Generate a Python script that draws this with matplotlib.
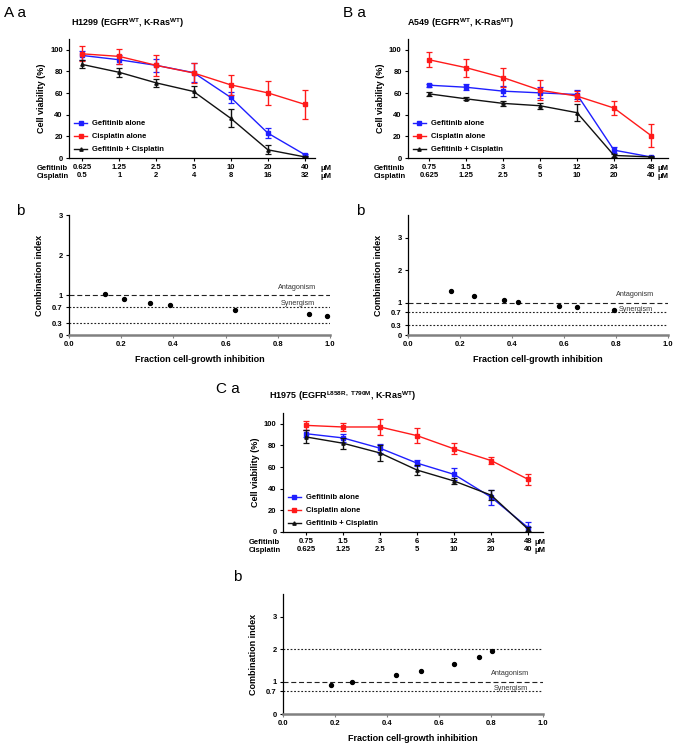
import matplotlib
matplotlib.use('Agg')
import matplotlib.pyplot as plt
import matplotlib.transforms as mtransforms

plt.rcParams['font.family'] = ['Liberation Sans', 'DejaVu Sans']
plt.rcParams['font.weight'] = 'bold'
plt.rcParams['mathtext.fontset'] = 'custom'
plt.rcParams['mathtext.rm'] = 'Liberation Sans:bold'
plt.rcParams['mathtext.bf'] = 'Liberation Sans:bold'

# ---- data: H1299 ----
h1299_gef = ['0.625', '1.25', '2.5', '5', '10', '20', '40']
h1299_cis = ['0.5', '1', '2', '4', '8', '16', '32']
h1299_gef_v = [94.8, 90.8, 85.6, 78.9, 56.0, 23.0, 3.0]
h1299_gef_e = [4.0, 4.0, 6.0, 9.0, 5.0, 4.5, 1.0]
h1299_cis_v = [96.3, 93.9, 85.6, 78.6, 67.6, 60.2, 49.5]
h1299_cis_e = [7.0, 6.7, 10.0, 9.0, 9.0, 11.0, 13.0]
h1299_com_v = [86.5, 79.2, 69.4, 61.5, 36.7, 7.6, 1.0]
h1299_com_e = [3.7, 4.3, 3.7, 5.0, 8.3, 4.0, 0.5]
h1299_fa = [0.138, 0.211, 0.311, 0.386, 0.636, 0.921, 0.988]
h1299_ci = [1.02, 0.89, 0.79, 0.74, 0.63, 0.53, 0.48]

# ---- data: A549 ----
a549_gef = ['0.75', '1.5', '3', '6', '12', '24', '48']
a549_cis = ['0.625', '1.25', '2.5', '5', '10', '20', '40']
a549_gef_v = [67.3, 65.4, 61.8, 60.2, 58.7, 7.3, 1.0]
a549_gef_e = [1.5, 3.0, 4.5, 5.0, 4.0, 2.5, 0.5]
a549_cis_v = [90.8, 83.5, 74.3, 62.7, 57.2, 46.2, 20.8]
a549_cis_e = [7.0, 8.3, 9.0, 9.0, 4.5, 6.7, 10.5]
a549_com_v = [59.3, 54.7, 50.5, 48.3, 41.9, 2.4, 1.0]
a549_com_e = [2.0, 1.5, 2.0, 3.0, 8.0, 1.0, 0.5]
a549_fa = [0.167, 0.255, 0.37, 0.423, 0.58, 0.649, 0.792]
a549_ci = [1.37, 1.2, 1.07, 1.03, 0.9, 0.86, 0.78]

# ---- data: H1975 ----
h1975_gef = ['0.75', '1.5', '3', '6', '12', '24', '48']
h1975_cis = ['0.625', '1.25', '2.5', '5', '10', '20', '40']
h1975_gef_v = [90.8, 86.9, 77.4, 63.6, 53.2, 32.1, 4.0]
h1975_gef_e = [3.0, 4.0, 4.0, 3.0, 5.5, 7.0, 5.0]
h1975_cis_v = [98.5, 97.0, 97.0, 89.0, 76.8, 66.0, 48.6]
h1975_cis_e = [4.0, 4.0, 7.0, 7.0, 5.0, 3.5, 5.0]
h1975_com_v = [87.8, 82.0, 73.0, 57.2, 47.1, 34.0, 2.5]
h1975_com_e = [6.0, 5.0, 7.0, 5.0, 3.0, 4.5, 2.0]
h1975_fa = [0.183, 0.267, 0.434, 0.529, 0.657, 0.754, 0.805]
h1975_ci = [0.89, 1.0, 1.2, 1.34, 1.55, 1.77, 1.93]

fig = plt.figure(figsize=(6.77, 7.44), dpi=100)


def viability(rect, gef, cis, gv, ge, cv, ce, mv, me, xlim, um_x):
    ax = fig.add_axes(rect)
    x = list(range(len(gef)))
    series = [(gv, ge, '#1f1fff', 's', 2.6, 'Gefitinib alone'),
              (cv, ce, '#ff1a1a', 's', 2.6, 'Cisplatin alone'),
              (mv, me, '#111111', '^', 2.4, 'Gefitinib + Cisplatin')]
    for v, e, c, m, ms, lab in series:
        ax.errorbar(x, v, yerr=e, fmt='none', ecolor=c, elinewidth=1.0,
                    capsize=2.2, capthick=0.9)
        ax.plot(x, v, color=c, lw=1.0, marker=m, ms=ms, label=lab)
    ax.set_ylim(0, 110)
    ax.set_xlim(*xlim)
    ax.set_yticks([0, 20, 40, 60, 80, 100])
    ax.set_xticks(x)
    ax.set_xticklabels([g + '\n' + c for g, c in zip(gef, cis)],
                       linespacing=1.2)
    ax.tick_params(labelsize=5.5, length=2.5, width=0.8, pad=2)
    for s in ['top', 'right']:
        ax.spines[s].set_visible(False)
    ax.spines['left'].set_linewidth(0.9)
    ax.spines['bottom'].set_linewidth(0.9)
    ax.set_ylabel('Cell viability (%)', fontsize=6.5, fontweight='bold',
                  labelpad=3)
    ax.text(-0.13, -0.055, 'Gefitinib\nCisplatin', transform=ax.transAxes,
            fontsize=5.5, va='top', ha='left', linespacing=1.2)
    trans = mtransforms.blended_transform_factory(ax.transData, ax.transAxes)
    ax.text(um_x, -0.055, 'μM\nμM', transform=trans,
            fontsize=5.5, va='top', ha='left', linespacing=1.2)
    ax.legend(loc='lower left', bbox_to_anchor=(0.0, 0.0),
              fontsize=5.5, frameon=False, handlelength=1.8,
              handletextpad=0.6, labelspacing=0.75, borderaxespad=0.2)
    return ax


def combo(rect, fa, ci, ymax, lines, yticks, ylabels, ant_y, syn_y):
    ax = fig.add_axes(rect)
    for y, ls in lines:
        ax.axhline(y, color='#222222', lw=0.8, ls=ls)
    ax.scatter(fa, ci, s=8, color='black', zorder=3)
    ax.set_xlim(0, 1.0)
    ax.set_ylim(0, ymax)
    ax.set_xticks([0, 0.2, 0.4, 0.6, 0.8, 1.0])
    ax.set_xticklabels(['0.0', '0.2', '0.4', '0.6', '0.8', '1.0'])
    ax.set_yticks(yticks)
    ax.set_yticklabels(ylabels)
    ax.tick_params(labelsize=5.5, length=2.5, width=0.8, pad=2)
    ax.tick_params(axis='x', color='#808080')
    for s in ['top', 'right']:
        ax.spines[s].set_visible(False)
    ax.spines['left'].set_linewidth(0.9)
    ax.spines['bottom'].set_linewidth(1.8)
    ax.spines['bottom'].set_color('#808080')
    ax.set_ylabel('Combination index', fontsize=6.5, fontweight='bold',
                  labelpad=6)
    ax.set_xlabel('Fraction cell-growth inhibition', fontsize=6.5,
                  fontweight='bold', labelpad=5)
    ax.text(0.875, ant_y, 'Antagonism', fontsize=5.2, fontweight='normal',
            ha='center', va='center', color='#333333')
    ax.text(0.875, syn_y, 'Synergism', fontsize=5.2, fontweight='normal',
            ha='center', va='center', color='#333333')
    return ax


dash = (0, (4.5, 2.5))
dot = (0, (1.6, 1.6))

viability([0.102, 0.7876, 0.3634, 0.16], h1299_gef, h1299_cis,
          h1299_gef_v, h1299_gef_e, h1299_cis_v, h1299_cis_e,
          h1299_com_v, h1299_com_e, (-0.35, 6.27), 6.42)
viability([0.6027, 0.7876, 0.384, 0.16], a549_gef, a549_cis,
          a549_gef_v, a549_gef_e, a549_cis_v, a549_cis_e,
          a549_com_v, a549_com_e, (-0.57, 6.46), 6.18)
viability([0.418, 0.285, 0.384, 0.16], h1975_gef, h1975_cis,
          h1975_gef_v, h1975_gef_e, h1975_cis_v, h1975_cis_e,
          h1975_com_v, h1975_com_e, (-0.62, 6.4), 6.18)

combo([0.102, 0.5497, 0.3855, 0.1613], h1299_fa, h1299_ci, 3.0,
      [(1, dash), (0.7, dot), (0.3, dot)],
      [0, 0.3, 0.7, 1, 2, 3], ['0', '0.3', '0.7', '1', '2', '3'], 1.2, 0.8)
combo([0.6027, 0.5497, 0.384, 0.1613], a549_fa, a549_ci, 3.7,
      [(1, dash), (0.7, dot), (0.3, dot)],
      [0, 0.3, 0.7, 1, 2, 3], ['0', '0.3', '0.7', '1', '2', '3'], 1.25, 0.78)
combo([0.418, 0.0403, 0.384, 0.1613], h1975_fa, h1975_ci, 3.7,
      [(2, dot), (1, dash), (0.7, dot)],
      [0, 0.7, 1, 2, 3], ['0', '0.7', '1', '2', '3'], 1.25, 0.78)


# panel letters and titles
def ftext(x, y, s, **kw):
    fig.text(x / 677, 1 - y / 744, s, **kw)


ftext(4, 13, 'A a', fontsize=11, fontweight='normal', va='center')
ftext(343, 13, 'B a', fontsize=11, fontweight='normal', va='center')
ftext(16, 211, 'b', fontsize=11, fontweight='normal', va='center')
ftext(356, 211, 'b', fontsize=11, fontweight='normal', va='center')
ftext(216, 389, 'C a', fontsize=11, fontweight='normal', va='center')
ftext(233, 577, 'b', fontsize=11, fontweight='normal', va='center')

ftext(71, 23, r'H1299 (EGFR$^{\mathbf{WT}}$, K-Ras$^{\mathbf{WT}}$)',
      fontsize=6.5, va='center')
ftext(407, 23, r'A549 (EGFR$^{\mathbf{WT}}$, K-Ras$^{\mathbf{MT}}$)',
      fontsize=6.5, va='center')
ftext(269, 396, r'H1975 (EGFR$^{\mathbf{L858R,\ T790M}}$, K-Ras$^{\mathbf{WT}}$)',
      fontsize=6.5, va='center')

fig.savefig('out.png', dpi=100)
